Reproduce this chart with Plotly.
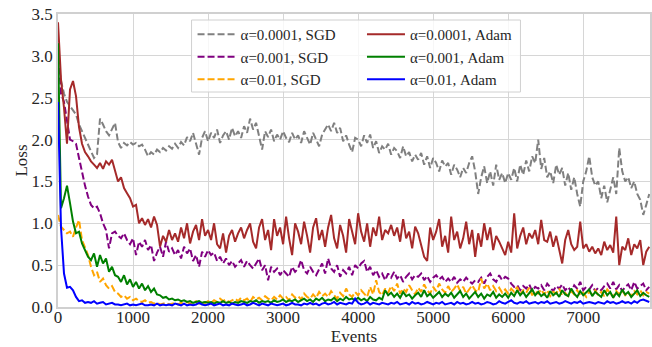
import plotly.graph_objects as go

# Training loss logged every 40 events
events = list(range(0, 7881, 40))

sgd_1e4 = [
    2.95, 2.7, 2.55, 2.45, 2.4, 2.35, 2.3, 2.18, 2.1, 2.0,
    1.92, 1.85, 1.78, 1.82, 2.25, 2.18, 2.1, 2.05, 2.12, 2.2,
    1.97, 1.9, 1.96, 1.93, 1.97, 1.94, 1.96, 1.92, 1.94, 1.88,
    1.8, 1.85, 1.82, 1.88, 1.85, 1.9, 1.87, 1.92, 1.89, 1.95,
    1.9, 1.97, 1.93, 2.03, 1.98, 2.08, 1.95, 1.82, 2.02, 2.1,
    1.98, 2.08, 2.02, 2.12, 1.96, 2.05, 2.1, 2.0, 2.14, 2.04,
    2.1, 2.02, 2.16, 2.08, 2.25, 2.12, 2.2, 2.05, 1.88, 2.1,
    2.03, 2.12, 1.98, 2.06, 2.0, 2.1, 2.02, 1.97, 2.08, 2.0,
    2.05, 1.96, 2.1, 2.02, 1.94, 2.08, 2.0, 1.92, 2.06, 2.12,
    2.18, 2.1, 2.2, 2.08, 2.14, 1.98, 2.05, 1.94, 1.85, 2.02,
    2.0, 1.92, 2.05, 1.96, 2.06, 1.9, 1.98, 1.84, 1.92, 1.88,
    1.95, 1.82, 1.9, 1.86, 1.78, 1.92, 1.8, 1.85, 1.74, 1.82,
    1.76, 1.84, 1.7, 1.8, 1.66, 1.78, 1.72, 1.62, 1.75, 1.68,
    1.72, 1.58, 1.7, 1.64, 1.55, 1.66, 1.6, 1.72, 1.8, 1.62,
    1.35, 1.55, 1.68, 1.48, 1.62, 1.45, 1.7, 1.52, 1.6, 1.48,
    1.6, 1.52, 1.66, 1.5, 1.7, 1.58, 1.75, 1.62, 1.8, 1.72,
    2.0, 1.65, 1.78, 1.55, 1.62, 1.48, 1.7, 1.58, 1.66, 1.45,
    1.6, 1.4, 1.55, 1.35, 1.2, 1.5, 1.62, 1.8, 1.55, 1.45,
    1.5, 1.3, 1.45, 1.25, 1.4, 1.55, 1.35, 1.9, 1.62, 1.5,
    1.55, 1.42, 1.5, 1.35, 1.28, 1.1, 1.22, 1.35,
]

sgd_1e3 = [
    3.1, 2.55, 2.45, 2.2, 2.0, 1.98, 1.95, 1.78, 1.6, 1.45,
    1.32, 1.22, 1.18, 1.2, 1.12, 1.0, 0.92, 0.7, 0.88, 0.9,
    0.85, 0.82, 0.88, 0.8, 0.75, 0.82, 0.62, 0.78, 0.72, 0.8,
    0.68, 0.74, 0.55, 0.65, 0.72, 0.6, 0.78, 0.66, 0.7, 0.62,
    0.68, 0.58, 0.72, 0.64, 0.7, 0.55, 0.62, 0.48, 0.66, 0.6,
    0.68, 0.62, 0.65, 0.55, 0.6, 0.52, 0.58, 0.5, 0.55, 0.48,
    0.52, 0.56, 0.48, 0.55, 0.5, 0.46, 0.52, 0.58, 0.44, 0.5,
    0.32, 0.48, 0.42, 0.46, 0.38, 0.44, 0.4, 0.36, 0.48, 0.42,
    0.46, 0.56, 0.44, 0.4, 0.48, 0.42, 0.38, 0.45, 0.52, 0.4,
    0.58, 0.46, 0.42, 0.5, 0.36, 0.44, 0.4, 0.48, 0.38, 0.5,
    0.46, 0.52, 0.55, 0.42, 0.48, 0.38, 0.44, 0.36, 0.4, 0.32,
    0.4, 0.35, 0.42, 0.34, 0.38, 0.3, 0.36, 0.4, 0.33, 0.38,
    0.36, 0.4, 0.32, 0.37, 0.3, 0.35, 0.38, 0.33, 0.36, 0.3,
    0.34, 0.3, 0.36, 0.29, 0.33, 0.3, 0.35, 0.31, 0.28, 0.32,
    0.3, 0.35, 0.28, 0.36, 0.4, 0.33, 0.3, 0.38, 0.32, 0.36,
    0.34, 0.28, 0.24, 0.26, 0.2, 0.25, 0.22, 0.27, 0.19, 0.24,
    0.22, 0.26, 0.2, 0.28, 0.24, 0.19, 0.25, 0.22, 0.27, 0.2,
    0.24, 0.18, 0.26, 0.22, 0.3, 0.2, 0.24, 0.21, 0.26, 0.19,
    0.23, 0.2, 0.25, 0.28, 0.22, 0.3, 0.21, 0.26, 0.19, 0.24,
    0.27, 0.2, 0.3, 0.22, 0.25, 0.28, 0.2, 0.24,
]

sgd_1e2 = [
    1.1, 0.96, 0.92, 0.88, 0.9, 0.84, 0.95, 1.04, 0.8, 0.7,
    0.62, 0.48, 0.38, 0.42, 0.3, 0.34, 0.26, 0.22, 0.25, 0.18,
    0.16, 0.12, 0.14, 0.1, 0.12, 0.08, 0.1, 0.07, 0.06, 0.08,
    0.05, 0.06, 0.04, 0.05, 0.03, 0.04, 0.05, 0.03, 0.04, 0.05,
    0.03, 0.05, 0.04, 0.06, 0.04, 0.05, 0.07, 0.04, 0.06, 0.05,
    0.07, 0.05, 0.08, 0.06, 0.1, 0.07, 0.09, 0.06, 0.08, 0.1,
    0.07, 0.11, 0.08, 0.1, 0.06, 0.12, 0.09, 0.11, 0.08, 0.13,
    0.1, 0.08, 0.12, 0.09, 0.14, 0.1, 0.12, 0.08, 0.15, 0.11,
    0.13, 0.09, 0.16, 0.12, 0.1, 0.15, 0.11, 0.18, 0.13, 0.16,
    0.12, 0.19, 0.14, 0.1, 0.17, 0.13, 0.22, 0.15, 0.12, 0.18,
    0.14, 0.2, 0.16, 0.12, 0.24, 0.15, 0.32, 0.18, 0.14, 0.22,
    0.17, 0.25, 0.19, 0.28, 0.16, 0.22, 0.18, 0.26, 0.2, 0.15,
    0.23, 0.18, 0.27, 0.2, 0.16, 0.24, 0.19, 0.28, 0.21, 0.17,
    0.25, 0.18, 0.22, 0.27, 0.19, 0.24, 0.16, 0.21, 0.26, 0.2,
    0.18, 0.34, 0.22, 0.28, 0.2, 0.25, 0.19, 0.23, 0.17, 0.21,
    0.16, 0.22, 0.18, 0.24, 0.15, 0.2, 0.17, 0.23, 0.14, 0.19,
    0.16, 0.21, 0.15, 0.2, 0.13, 0.18, 0.16, 0.22, 0.14, 0.17,
    0.13, 0.19, 0.15, 0.2, 0.14, 0.17, 0.12, 0.18, 0.15, 0.2,
    0.14, 0.18, 0.13, 0.21, 0.16, 0.12, 0.19, 0.15, 0.2, 0.14,
    0.17, 0.13, 0.19, 0.15, 0.2, 0.14, 0.18, 0.16,
]

adam_1e4 = [
    3.4, 2.72, 2.38, 1.95, 2.6, 2.7, 2.52, 2.15, 1.95, 1.85,
    1.8, 1.74, 1.7, 1.66, 1.72, 1.65, 1.74, 1.7, 1.76, 1.62,
    1.5, 1.55, 1.42, 1.36, 1.3, 1.2, 1.22, 1.0, 1.06, 0.98,
    1.05, 0.95, 1.08, 0.98, 0.72, 0.85, 0.78, 0.92, 0.8, 0.88,
    0.78, 0.95, 0.82, 1.0, 0.76, 0.9, 0.98, 0.8, 1.05, 0.85,
    0.92, 0.8, 1.0, 0.75, 0.7, 0.88, 0.65, 0.85, 0.92, 0.78,
    0.88, 0.95, 0.82, 0.92, 1.0, 0.78, 0.7, 0.95, 1.05, 0.8,
    0.92, 0.68, 1.05, 0.85, 0.95, 0.75, 1.08, 0.82, 0.62, 1.0,
    0.9, 0.75, 1.02, 0.85, 0.65, 0.95, 1.06, 0.8, 0.92, 0.72,
    0.95, 1.1, 0.82, 0.7, 0.98, 0.85, 0.65, 1.05, 0.88, 0.75,
    1.12, 0.9, 0.78, 1.0, 0.72, 0.95, 0.85, 1.08, 0.8, 0.92,
    0.88, 0.98, 0.85, 0.95, 0.78, 1.05, 0.82, 0.9, 0.7, 0.96,
    0.88, 0.75, 0.6, 0.55, 0.95, 0.8, 0.9, 1.05, 0.72, 0.85,
    0.65, 1.08, 0.8, 0.9, 0.7, 0.82, 1.02, 0.75, 0.92, 0.6,
    0.88, 0.72, 1.0, 0.8, 0.95, 0.68, 0.85, 0.78, 0.7, 0.62,
    0.78, 0.65, 1.12, 0.7, 0.85, 0.95, 0.75, 0.88, 0.82, 0.92,
    0.75, 1.04, 0.8, 0.78, 0.9, 0.72, 0.85, 0.7, 0.52, 0.8,
    0.92, 0.75, 0.68, 0.72, 1.02, 0.7, 0.75, 0.66, 0.72, 0.64,
    0.7, 0.62, 0.78, 0.68, 0.74, 0.65, 1.08, 0.5, 0.72, 0.68,
    0.82, 0.62, 0.75, 0.7, 0.8, 0.5, 0.66, 0.72,
]

adam_1e3 = [
    3.15, 1.18, 1.3, 1.45, 1.24, 1.02, 0.88, 0.9, 0.76, 0.68,
    0.6, 0.56, 0.64, 0.48, 0.62, 0.52, 0.58, 0.42, 0.48, 0.38,
    0.36, 0.3, 0.38, 0.27, 0.33, 0.24, 0.3, 0.22, 0.28, 0.2,
    0.25, 0.18, 0.22, 0.15, 0.14, 0.11, 0.12, 0.09, 0.1, 0.08,
    0.09, 0.07, 0.08, 0.06, 0.07, 0.05, 0.06, 0.07, 0.05, 0.06,
    0.05, 0.06, 0.04, 0.06, 0.05, 0.07, 0.05, 0.06, 0.04, 0.06,
    0.05, 0.07, 0.06, 0.05, 0.07, 0.06, 0.08, 0.05, 0.07, 0.06,
    0.07, 0.05, 0.08, 0.06, 0.07, 0.09, 0.06, 0.08, 0.07, 0.09,
    0.06, 0.08, 0.1, 0.07, 0.09, 0.06, 0.1, 0.08, 0.11, 0.07,
    0.09, 0.08, 0.11, 0.07, 0.1, 0.08, 0.12, 0.09, 0.1, 0.08,
    0.11, 0.08, 0.1, 0.07, 0.12, 0.09, 0.08, 0.11, 0.09, 0.2,
    0.14, 0.17, 0.12, 0.16, 0.11, 0.18, 0.13, 0.15, 0.1, 0.14,
    0.17, 0.12, 0.2, 0.13, 0.16, 0.11, 0.15, 0.18, 0.12, 0.16,
    0.13, 0.17, 0.11, 0.15, 0.19, 0.12, 0.16, 0.1, 0.14, 0.18,
    0.12, 0.16, 0.1, 0.15, 0.13, 0.18, 0.11, 0.15, 0.12, 0.16,
    0.11, 0.17, 0.13, 0.2, 0.14, 0.18, 0.12, 0.16, 0.21, 0.14,
    0.18, 0.13, 0.16, 0.11, 0.19, 0.14, 0.17, 0.12, 0.2, 0.15,
    0.13, 0.22, 0.16, 0.12, 0.19, 0.14, 0.17, 0.21, 0.13, 0.18,
    0.15, 0.12, 0.2, 0.14, 0.18, 0.11, 0.17, 0.13, 0.21, 0.15,
    0.18, 0.12, 0.16, 0.2, 0.13, 0.17, 0.14, 0.12,
]

adam_1e2 = [
    2.45, 0.95, 0.4, 0.23, 0.24, 0.2, 0.12, 0.07, 0.08, 0.05,
    0.06, 0.05, 0.07, 0.04, 0.05, 0.06, 0.03, 0.04, 0.05, 0.03,
    0.03, 0.02, 0.03, 0.04, 0.02, 0.03, 0.02, 0.03, 0.04, 0.02,
    0.02, 0.03, 0.02, 0.04, 0.02, 0.03, 0.02, 0.03, 0.02, 0.04,
    0.03, 0.02, 0.04, 0.02, 0.03, 0.02, 0.03, 0.05, 0.03, 0.02,
    0.03, 0.04, 0.02, 0.03, 0.04, 0.02, 0.03, 0.02, 0.04, 0.03,
    0.02, 0.03, 0.04, 0.02, 0.03, 0.05, 0.03, 0.02, 0.04, 0.03,
    0.02, 0.04, 0.03, 0.02, 0.03, 0.04, 0.02, 0.03, 0.05, 0.03,
    0.03, 0.02, 0.04, 0.03, 0.05, 0.03, 0.04, 0.02, 0.04, 0.05,
    0.03, 0.04, 0.06, 0.03, 0.05, 0.04, 0.03, 0.05, 0.04, 0.1,
    0.05, 0.03, 0.04, 0.06, 0.03, 0.05, 0.04, 0.03, 0.05, 0.04,
    0.03, 0.05, 0.04, 0.06, 0.03, 0.04, 0.05, 0.03, 0.06, 0.04,
    0.05, 0.03, 0.04, 0.06, 0.04, 0.03, 0.05, 0.04, 0.06, 0.03,
    0.04, 0.05, 0.03, 0.06, 0.04, 0.05, 0.03, 0.04, 0.06, 0.04,
    0.05, 0.03, 0.04, 0.06, 0.05, 0.03, 0.04, 0.07, 0.05, 0.04,
    0.06, 0.08, 0.05, 0.04, 0.06, 0.05, 0.07, 0.04, 0.05, 0.06,
    0.04, 0.06, 0.05, 0.07, 0.04, 0.05, 0.06, 0.04, 0.05, 0.07,
    0.05, 0.04, 0.06, 0.05, 0.07, 0.04, 0.05, 0.06, 0.05, 0.04,
    0.06, 0.05, 0.04, 0.07, 0.05, 0.06, 0.04, 0.05, 0.07, 0.05,
    0.06, 0.04, 0.07, 0.05, 0.08, 0.09, 0.07, 0.06,
]

x_ticks = [0, 1000, 2000, 3000, 4000, 5000, 6000, 7000]
y_ticks = [0.0, 0.5, 1.0, 1.5, 2.0, 2.5, 3.0, 3.5]

# (label, values, colour, dashed, legend)
series = [
    ("α=0.0001, SGD", sgd_1e4, "#808080", True, "legend"),
    ("α=0.001, SGD", sgd_1e3, "#800080", True, "legend"),
    ("α=0.01, SGD", sgd_1e2, "#FFA500", True, "legend"),
    ("α=0.0001, Adam", adam_1e4, "#A52A2A", False, "legend2"),
    ("α=0.001, Adam", adam_1e3, "#008000", False, "legend2"),
    ("α=0.01, Adam", adam_1e2, "#0000FF", False, "legend2"),
]

W, H = 652, 347
ML, MR, MT, MB = 58, 0, 14, 40
PW, PH = W - ML - MR, H - MT - MB


def px_x(p):
    return (p - ML) / PW


def px_y(p):
    return (H - MB - p) / PH


SERIF = "Liberation Serif"

fig = go.Figure()
for i, (name, vals, color, dashed, leg) in enumerate(series):
    fig.add_trace(go.Scatter(
        x=events, y=vals, mode="lines", name=name,
        line=dict(color=color, width=2, dash="7px,3px" if dashed else "solid"),
        legend=leg, legendgroup=f"g{i}",
    ))

legend_common = dict(
    bgcolor="rgba(0,0,0,0)", borderwidth=0,
    font=dict(family=SERIF, size=15, color="#262626"),
    yanchor="top", xanchor="left", tracegroupgap=0, itemwidth=38,
)

axis_common = dict(
    showgrid=True, gridcolor="#d6d6d6", gridwidth=1.2,
    showline=True, linecolor="#d0d0d0", linewidth=1.5, mirror=True,
    zeroline=False, ticks="", ticklen=0,
    tickfont=dict(family=SERIF, size=17),
)

fig.update_layout(
    width=W, height=H,
    margin=dict(l=ML, r=MR, t=MT, b=MB),
    paper_bgcolor="white", plot_bgcolor="white",
    font=dict(family=SERIF, size=17, color="#262626"),
    showlegend=True,
    legend=dict(x=px_x(193), y=px_y(18), **legend_common),
    legend2=dict(x=px_x(363), y=px_y(18), **legend_common),
    shapes=[dict(
        type="rect", xref="paper", yref="paper", layer="above",
        x0=px_x(192), x1=px_x(522), y0=px_y(92), y1=px_y(20),
        line=dict(color="#d0d0d0", width=1),
        fillcolor="rgba(255,255,255,0.8)",
    )],
    xaxis=dict(
        range=[0, 7890], tickvals=x_ticks, ticktext=[str(v) for v in x_ticks],
        ticklabelstandoff=-6,
        title=dict(text="Events", font=dict(family=SERIF, size=17), standoff=0),
        **axis_common,
    ),
    yaxis=dict(
        range=[0, 3.5], tickvals=y_ticks, ticktext=[f"{v:.1f}" for v in y_ticks],
        title=dict(text="Loss", font=dict(family=SERIF, size=17), standoff=0),
        **axis_common,
    ),
)

fig.write_html("out.html")
